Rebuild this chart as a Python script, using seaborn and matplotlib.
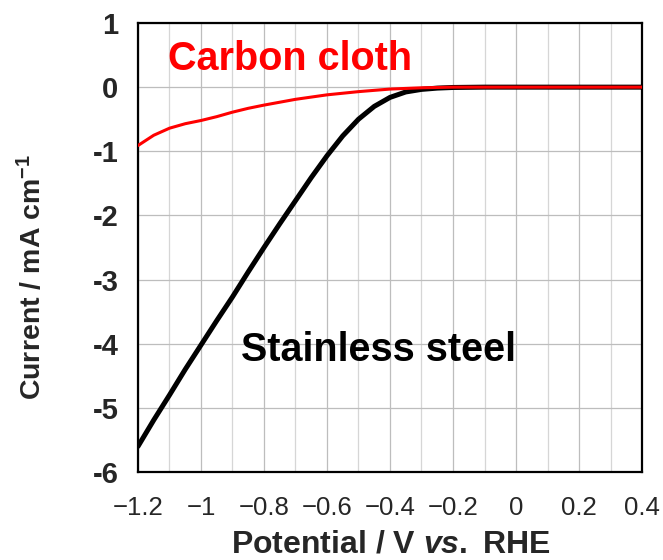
import matplotlib
matplotlib.use("Agg")
import matplotlib.pyplot as plt
from matplotlib.ticker import MultipleLocator, FuncFormatter
import seaborn as sns
import pandas as pd

# Linear sweep voltammetry: potential (V vs. RHE) and current density (mA cm^-1)
potential = [-1.2, -1.15, -1.1, -1.05, -1.0, -0.95, -0.9, -0.85, -0.8, -0.75,
             -0.7, -0.65, -0.6, -0.55, -0.5, -0.45, -0.4, -0.35, -0.3, -0.25,
             -0.2, -0.1, 0.0, 0.1, 0.2, 0.3, 0.4]
stainless_steel = [-5.60, -5.19, -4.80, -4.40, -4.02, -3.64, -3.27, -2.88, -2.50, -2.13,
                   -1.77, -1.41, -1.07, -0.76, -0.50, -0.30, -0.16, -0.075, -0.035, -0.015,
                   -0.005, 0.0, 0.0, 0.0, 0.0, 0.0, 0.0]
carbon_cloth = [-0.91, -0.75, -0.64, -0.57, -0.52, -0.46, -0.39, -0.33, -0.28, -0.235,
                -0.19, -0.155, -0.12, -0.095, -0.07, -0.05, -0.03, -0.02, -0.01, -0.005,
                0.0, 0.0, 0.0, 0.0, 0.0, 0.0, 0.0]
series_names = ["Stainless steel", "Carbon cloth"]
series_colors = ["#000000", "#ff0000"]
x_ticks = [-1.2, -1.0, -0.8, -0.6, -0.4, -0.2, 0.0, 0.2, 0.4]
y_ticks = [1, 0, -1, -2, -3, -4, -5, -6]

sns.set_theme(style="white")
plt.rcParams["font.family"] = ["Liberation Sans", "DejaVu Sans"]
plt.rcParams["mathtext.fontset"] = "custom"
plt.rcParams["mathtext.rm"] = "Liberation Sans:bold"
plt.rcParams["mathtext.it"] = "Liberation Sans:bold:italic"
plt.rcParams["mathtext.bf"] = "Liberation Sans:bold"

df = pd.DataFrame({
    "Potential": potential * 2,
    "Current": stainless_steel + carbon_cloth,
    "Electrode": [series_names[0]] * len(potential) + [series_names[1]] * len(potential),
})

fig = plt.figure(figsize=(6.63, 5.6), dpi=100)
ax = fig.add_axes([138 / 663, 1 - 472 / 560, 504 / 663, 449 / 560])

for name, color, lw in zip(series_names, series_colors, [3.6, 2.2]):
    sns.lineplot(data=df[df["Electrode"] == name], x="Potential", y="Current",
                 color=color, linewidth=lw, ax=ax, sort=False, legend=False,
                 zorder=3 if name == "Stainless steel" else 4)

ax.set_xlim(-1.2, 0.4)
ax.set_ylim(-6, 1)
ax.set_xticks(x_ticks)
ax.set_yticks(y_ticks)
ax.xaxis.set_minor_locator(MultipleLocator(0.1))
ax.xaxis.set_major_formatter(FuncFormatter(
    lambda v, p: ("%g" % round(v, 1)).replace("-", "\u2212")))
ax.yaxis.set_major_formatter(FuncFormatter(lambda v, p: "%d" % round(v)))

ax.grid(True, which="major", axis="both", color="#bdbdbd", linewidth=0.9)
ax.grid(True, which="minor", axis="x", color="#d6d6d6", linewidth=0.9)
ax.set_axisbelow(True)

for s in ax.spines.values():
    s.set_visible(True)
    s.set_color("black")
    s.set_linewidth(1.6)

ax.tick_params(axis="x", which="both", length=0, pad=17, labelsize=18.5)
ax.tick_params(axis="y", which="both", length=0, pad=14, labelsize=21)
for lab in ax.get_yticklabels():
    lab.set_fontweight("bold")

ax.set_xlabel(r"Potential / V $\mathit{vs.}$ RHE", fontsize=23, fontweight="bold",
              va="center")
ax.set_ylabel(r"Current / mA cm$^{-1}$", fontsize=20.5, fontweight="bold", va="center")
ax.xaxis.set_label_coords(0.502, -0.162)
ax.yaxis.set_label_coords(-0.21, 0.434)

ax.text(-0.717, 0.44, "Carbon cloth", color="#ff0000", fontsize=28.5,
        fontweight="bold", ha="center", va="center")
ax.text(-0.435, -4.10, "Stainless steel", color="black", fontsize=28.5,
        fontweight="bold", ha="center", va="center")

fig.savefig("out.png", dpi=100)
